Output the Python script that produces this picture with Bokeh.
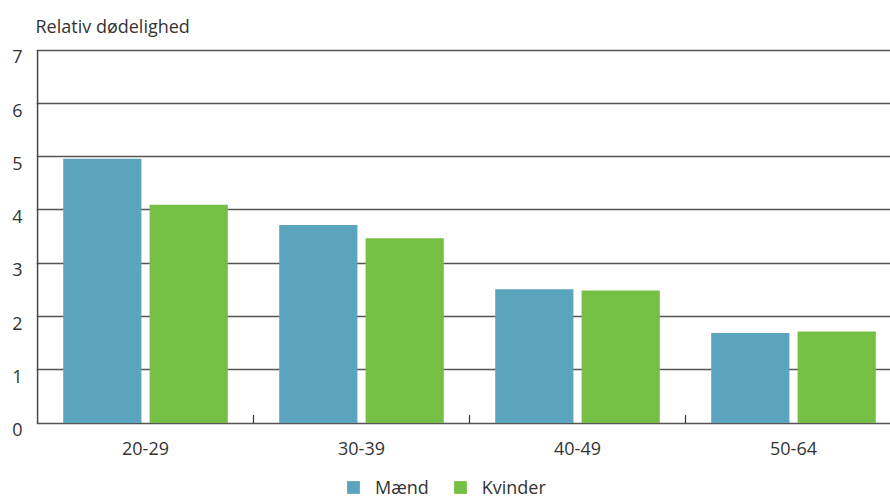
import numpy as np
from bokeh.plotting import figure
from bokeh.models import (ColumnDataSource, FixedTicker, Range1d, Legend, LegendItem,
                          CustomJSTickFormatter)
from bokeh.core.properties import value
from bokeh.embed import file_html
from bokeh.resources import INLINE

categories = ["20-29", "30-39", "40-49", "50-64"]
maend = [4.96, 3.72, 2.51, 1.69]
kvinder = [4.10, 3.47, 2.49, 1.72]
y_ticks = [0, 1, 2, 3, 4, 5, 6, 7]

FONT = "Open Sans"
TXT = "#333333"
FS = "18px"
LBL_SHIFT = 0.125   # y labels sit just below their gridline
UNIT = 373 / 7      # pixels per y unit

idx = np.arange(len(categories))
src = ColumnDataSource(dict(
    xm=idx + 0.5 - 0.2, xk=idx + 0.5 + 0.2, m=maend, k=kvinder,
))

p = figure(frame_width=854, frame_height=451, output_backend="svg", toolbar_location=None,
           x_range=Range1d(-1 / 216, 853 / 216),
           y_range=Range1d(-(498 - 421.6) / UNIT, 7 + 1.6 / UNIT),
           min_border_left=36, min_border_right=0, min_border_top=47, min_border_bottom=0)
p.outline_line_color = None
p.background_fill_color = "white"
p.border_fill_color = "white"

p.xgrid.visible = False
p.ygrid.ticker = FixedTicker(ticks=y_ticks)
p.ygrid.grid_line_color = "#555555"
p.ygrid.grid_line_width = 1.6

rm = p.vbar(x="xm", top="m", width=0.362, source=src, fill_color="#5AA5BD", line_color=None)
rk = p.vbar(x="xk", top="k", width=0.362, source=src, fill_color="#74BF44", line_color=None)

# left axis line (0..7) and category separator ticks
p.segment(x0=[0], y0=[0], x1=[0], y1=[max(y_ticks)], line_color="#444444", line_width=1.6)
sep = idx[1:].astype(float)
p.segment(x0=sep, y0=[0] * len(sep), x1=sep, y1=[0.15] * len(sep),
          line_color="#333333", line_width=1.2)

# category labels under the baseline
p.text(x=idx + 0.5, y=[-25 / UNIT] * len(categories), text=categories,
       text_align="center", text_baseline="middle", text_font=value(FONT),
       text_font_size=value(FS), text_color=TXT)

# title
p.title.text = "Relativ dødelighed"
p.title.text_font = FONT
p.title.text_font_size = FS
p.title.text_font_style = "normal"
p.title.text_color = TXT
p.title.align = "left"
p.title.offset = -1
p.title.standoff = 22

p.xaxis.visible = False

# y axis
ya = p.yaxis[0]
ya.ticker = FixedTicker(ticks=[v - LBL_SHIFT for v in y_ticks])
ya.formatter = CustomJSTickFormatter(code="return (tick + %f).toFixed(0);" % LBL_SHIFT)
ya.major_tick_in = 0
ya.major_tick_out = 0
ya.minor_tick_in = 0
ya.minor_tick_out = 0
ya.axis_line_color = None
ya.major_label_text_font = FONT
ya.major_label_text_font_size = FS
ya.major_label_text_color = TXT
ya.major_label_standoff = 14

legend = Legend(items=[LegendItem(label="Mænd", renderers=[rm]),
                       LegendItem(label="Kvinder", renderers=[rk])],
                orientation="horizontal", location=(309, 0),
                label_text_font=FONT, label_text_font_size=FS, label_text_color=TXT,
                glyph_width=16, glyph_height=16, spacing=23, label_standoff=14,
                padding=0, margin=0, border_line_color=None, background_fill_alpha=0)
p.add_layout(legend, "center")

open("out.html", "w").write(file_html(p, INLINE))
